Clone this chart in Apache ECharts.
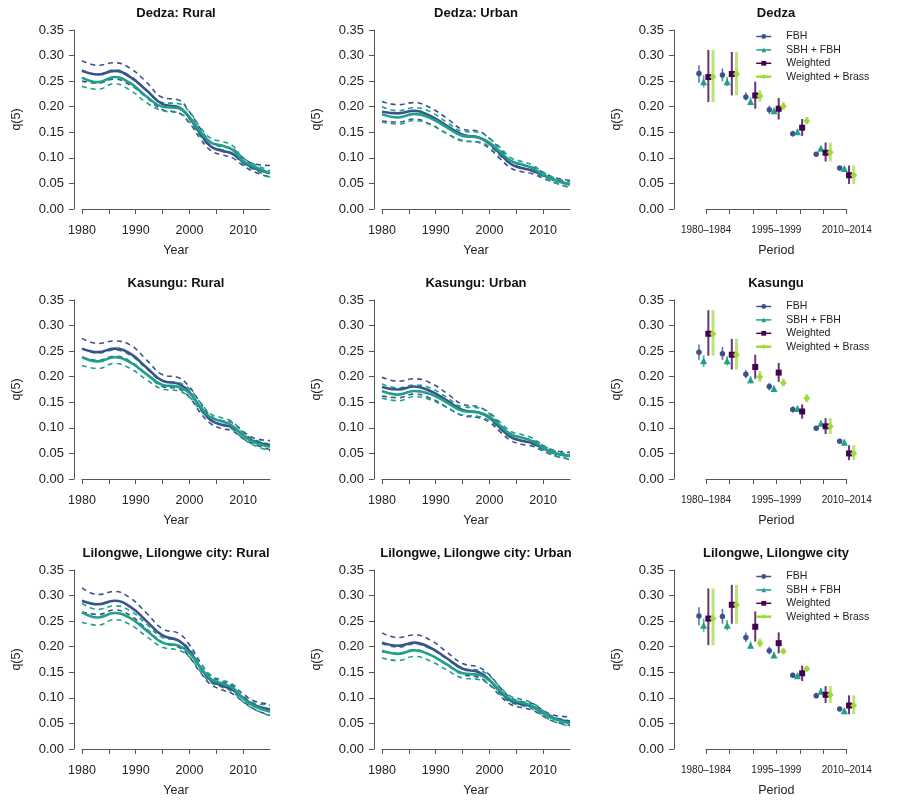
<!DOCTYPE html>
<html><head><meta charset="utf-8">
<script src="https://cdn.jsdelivr.net/npm/echarts@6/dist/echarts.min.js"></script>
<style>html,body{margin:0;padding:0;background:#fff}#c{width:900px;height:810px}</style>
</head><body><div id="c"></div><script>
// ---------- smoothed yearly series (left two columns) ----------
const years = [1980,1983,1986,1989,1992,1995,1998,2000,2002,2004,2006,2008,2010,2012,2015];

const dedzaRuralFbh      = [0.270,0.263,0.270,0.258,0.232,0.205,0.199,0.178,0.148,0.122,0.114,0.108,0.092,0.080,0.070];
const dedzaRuralFbhHi    = [0.290,0.281,0.286,0.275,0.248,0.218,0.213,0.190,0.158,0.130,0.122,0.118,0.100,0.088,0.085];
const dedzaRuralFbhLo    = [0.250,0.246,0.254,0.242,0.218,0.194,0.188,0.168,0.138,0.114,0.106,0.100,0.085,0.073,0.062];
const dedzaRuralSbh      = [0.257,0.248,0.258,0.246,0.220,0.200,0.197,0.180,0.152,0.130,0.124,0.116,0.094,0.083,0.070];
const dedzaRuralSbhHi    = [0.272,0.263,0.272,0.260,0.232,0.208,0.206,0.190,0.160,0.138,0.132,0.124,0.100,0.088,0.075];
const dedzaRuralSbhLo    = [0.240,0.234,0.245,0.232,0.208,0.192,0.188,0.170,0.143,0.122,0.116,0.108,0.088,0.077,0.062];

const dedzaUrbanFbh      = [0.190,0.187,0.192,0.182,0.163,0.145,0.140,0.128,0.108,0.088,0.080,0.075,0.066,0.057,0.048];
const dedzaUrbanFbhHi    = [0.210,0.204,0.208,0.198,0.178,0.156,0.152,0.138,0.117,0.094,0.086,0.082,0.072,0.062,0.056];
const dedzaUrbanFbhLo    = [0.172,0.170,0.176,0.166,0.148,0.134,0.130,0.118,0.098,0.080,0.073,0.069,0.060,0.052,0.042];
const dedzaUrbanSbh      = [0.185,0.179,0.186,0.178,0.160,0.143,0.140,0.130,0.112,0.094,0.087,0.080,0.067,0.057,0.048];
const dedzaUrbanSbhHi    = [0.200,0.192,0.198,0.190,0.170,0.152,0.150,0.138,0.120,0.100,0.093,0.086,0.072,0.061,0.053];
const dedzaUrbanSbhLo    = [0.170,0.166,0.173,0.165,0.148,0.133,0.131,0.122,0.104,0.088,0.081,0.074,0.062,0.052,0.042];

const kasunguRuralFbh    = [0.255,0.248,0.255,0.245,0.218,0.192,0.186,0.170,0.140,0.115,0.106,0.101,0.086,0.074,0.066];
const kasunguRuralFbhHi  = [0.275,0.265,0.270,0.262,0.233,0.204,0.198,0.180,0.150,0.123,0.114,0.110,0.093,0.080,0.075];
const kasunguRuralFbhLo  = [0.238,0.232,0.240,0.230,0.205,0.181,0.176,0.160,0.130,0.108,0.099,0.094,0.079,0.068,0.057];
const kasunguRuralSbh    = [0.238,0.230,0.238,0.228,0.205,0.184,0.180,0.168,0.142,0.120,0.113,0.104,0.085,0.072,0.063];
const kasunguRuralSbhHi  = [0.255,0.246,0.252,0.242,0.216,0.192,0.188,0.176,0.150,0.127,0.120,0.112,0.091,0.077,0.068];
const kasunguRuralSbhLo  = [0.222,0.216,0.226,0.216,0.194,0.176,0.172,0.160,0.135,0.114,0.107,0.097,0.079,0.066,0.055];

const kasunguUrbanFbh    = [0.180,0.175,0.181,0.172,0.154,0.135,0.130,0.120,0.100,0.082,0.075,0.070,0.060,0.051,0.045];
const kasunguUrbanFbhHi  = [0.199,0.191,0.196,0.188,0.168,0.146,0.141,0.128,0.107,0.088,0.081,0.076,0.065,0.056,0.052];
const kasunguUrbanFbhLo  = [0.162,0.159,0.166,0.158,0.141,0.124,0.120,0.111,0.092,0.075,0.068,0.064,0.055,0.046,0.039];
const kasunguUrbanSbh    = [0.172,0.165,0.172,0.166,0.150,0.133,0.130,0.122,0.104,0.087,0.081,0.074,0.061,0.051,0.045];
const kasunguUrbanSbhHi  = [0.186,0.178,0.184,0.178,0.160,0.141,0.139,0.130,0.111,0.093,0.087,0.080,0.066,0.055,0.048];
const kasunguUrbanSbhLo  = [0.158,0.153,0.161,0.155,0.140,0.125,0.122,0.114,0.097,0.081,0.075,0.068,0.056,0.046,0.038];

const lilongweRuralFbh   = [0.290,0.283,0.290,0.278,0.250,0.222,0.212,0.192,0.160,0.134,0.124,0.116,0.100,0.086,0.077];
const lilongweRuralFbhHi = [0.315,0.302,0.308,0.295,0.266,0.235,0.226,0.204,0.170,0.142,0.132,0.124,0.108,0.094,0.088];
const lilongweRuralFbhLo = [0.268,0.263,0.272,0.261,0.235,0.208,0.199,0.180,0.150,0.126,0.116,0.108,0.093,0.078,0.066];
const lilongweRuralSbh   = [0.267,0.257,0.266,0.256,0.232,0.208,0.202,0.188,0.160,0.137,0.128,0.120,0.099,0.084,0.073];
const lilongweRuralSbhHi = [0.285,0.273,0.280,0.270,0.244,0.218,0.212,0.196,0.168,0.144,0.135,0.127,0.105,0.090,0.086];
const lilongweRuralSbhLo = [0.248,0.242,0.253,0.243,0.220,0.199,0.193,0.180,0.152,0.130,0.121,0.112,0.092,0.078,0.065];

const lilongweUrbanFbh   = [0.208,0.202,0.208,0.198,0.178,0.157,0.150,0.135,0.112,0.094,0.088,0.083,0.070,0.060,0.053];
const lilongweUrbanFbhHi = [0.227,0.218,0.223,0.213,0.190,0.167,0.160,0.145,0.120,0.100,0.093,0.089,0.076,0.066,0.063];
const lilongweUrbanFbhLo = [0.190,0.187,0.194,0.184,0.165,0.146,0.140,0.126,0.104,0.087,0.081,0.076,0.064,0.054,0.046];
const lilongweUrbanSbh   = [0.192,0.186,0.193,0.184,0.166,0.148,0.145,0.134,0.114,0.097,0.091,0.084,0.070,0.059,0.050];
const lilongweUrbanSbhHi = [0.206,0.199,0.205,0.196,0.177,0.157,0.154,0.143,0.121,0.103,0.097,0.090,0.075,0.063,0.055];
const lilongweUrbanSbhLo = [0.178,0.173,0.181,0.172,0.155,0.139,0.136,0.126,0.107,0.091,0.085,0.078,0.065,0.054,0.044];

// ---------- period estimates (right column) ----------
const periods = ['1980\u20131984','1985\u20131989','1990\u20131994','1995\u20131999','2000\u20132004','2005\u20132009','2010\u20132014'];
const methodNames = ['FBH','SBH + FBH','Weighted','Weighted + Brass'];

const dedzaFbh     = [0.265,0.262,0.219,0.194,0.147,0.107,0.080];
const dedzaFbhLo   = [0.247,0.250,0.212,0.186,0.142,0.103,0.075];
const dedzaFbhHi   = [0.281,0.275,0.228,0.202,0.153,0.112,0.084];
const dedzaSbh     = [0.249,0.249,0.210,0.192,0.151,0.119,0.079];
const dedzaSbhLo   = [0.238,0.240,0.203,0.187,0.147,0.116,0.075];
const dedzaSbhHi   = [0.262,0.258,0.218,0.198,0.155,0.122,0.083];
const dedzaW       = [0.258,0.264,0.222,0.196,0.159,0.110,0.066];
const dedzaWLo     = [0.209,0.222,0.196,0.175,0.143,0.093,0.049];
const dedzaWHi     = [0.311,0.307,0.249,0.217,0.176,0.130,0.085];
const dedzaWB      = [0.258,0.264,0.221,0.201,0.172,0.111,0.066];
const dedzaWBLo    = [0.209,0.222,0.210,0.194,0.166,0.093,0.049];
const dedzaWBHi    = [0.311,0.307,0.232,0.209,0.180,0.130,0.085];

const kasunguFbh   = [0.248,0.245,0.205,0.181,0.136,0.099,0.074];
const kasunguFbhLo = [0.233,0.233,0.197,0.173,0.130,0.095,0.070];
const kasunguFbhHi = [0.263,0.258,0.213,0.188,0.142,0.104,0.078];
const kasunguSbh   = [0.231,0.231,0.194,0.177,0.138,0.109,0.072];
const kasunguSbhLo = [0.219,0.222,0.187,0.172,0.133,0.104,0.068];
const kasunguSbhHi = [0.242,0.240,0.201,0.183,0.143,0.114,0.077];
const kasunguW     = [0.284,0.243,0.219,0.208,0.132,0.103,0.050];
const kasunguWLo   = [0.241,0.214,0.196,0.190,0.118,0.088,0.037];
const kasunguWHi   = [0.330,0.274,0.243,0.227,0.146,0.119,0.066];
const kasunguWB    = [0.284,0.243,0.200,0.188,0.158,0.103,0.050];
const kasunguWBLo  = [0.241,0.214,0.190,0.181,0.150,0.088,0.037];
const kasunguWBHi  = [0.330,0.274,0.211,0.196,0.166,0.119,0.066];

const lilongweFbh   = [0.260,0.259,0.218,0.192,0.144,0.104,0.078];
const lilongweFbhLo = [0.242,0.245,0.209,0.185,0.139,0.099,0.074];
const lilongweFbhHi = [0.277,0.274,0.228,0.200,0.149,0.110,0.083];
const lilongweSbh   = [0.242,0.242,0.203,0.184,0.143,0.113,0.075];
const lilongweSbhLo = [0.229,0.232,0.196,0.178,0.138,0.108,0.070];
const lilongweSbhHi = [0.255,0.252,0.210,0.190,0.149,0.119,0.080];
const lilongweW     = [0.255,0.282,0.239,0.207,0.148,0.106,0.085];
const lilongweWLo   = [0.203,0.245,0.210,0.187,0.133,0.090,0.068];
const lilongweWHi   = [0.314,0.321,0.269,0.228,0.163,0.123,0.105];
const lilongweWB    = [0.255,0.282,0.207,0.191,0.157,0.106,0.085];
const lilongweWBLo  = [0.203,0.245,0.199,0.186,0.152,0.090,0.068];
const lilongweWBHi  = [0.314,0.321,0.216,0.197,0.162,0.123,0.105];

const yTicks = [0,0.05,0.10,0.15,0.20,0.25,0.30,0.35];

// ---------- layout / styling ----------
const FONT = "'Liberation Sans', Arial, Helvetica, sans-serif";
const BLUE = '#3B528B', TEAL = '#1FA088';
const methodStyle = [
  {color:'#3B528B', symbol:'circle',   size:5.5, off:-0.3, barW:1.6, barOp:0.8},
  {color:'#1FA088', symbol:'triangle', size:7,   off:-0.1, barW:1.6, barOp:0.8},
  {color:'#440154', symbol:'rect',     size:6,   off: 0.1, barW:2,   barOp:0.8},
  {color:'#9FDA3A', symbol:'diamond',  size:7,   off: 0.3, barW:3,   barOp:0.7}
];

const linePanels = [
  {title:'Dedza: Rural', r:0, c:0, fbh:[dedzaRuralFbh,dedzaRuralFbhLo,dedzaRuralFbhHi], sbh:[dedzaRuralSbh,dedzaRuralSbhLo,dedzaRuralSbhHi]},
  {title:'Dedza: Urban', r:0, c:1, fbh:[dedzaUrbanFbh,dedzaUrbanFbhLo,dedzaUrbanFbhHi], sbh:[dedzaUrbanSbh,dedzaUrbanSbhLo,dedzaUrbanSbhHi]},
  {title:'Kasungu: Rural', r:1, c:0, fbh:[kasunguRuralFbh,kasunguRuralFbhLo,kasunguRuralFbhHi], sbh:[kasunguRuralSbh,kasunguRuralSbhLo,kasunguRuralSbhHi]},
  {title:'Kasungu: Urban', r:1, c:1, fbh:[kasunguUrbanFbh,kasunguUrbanFbhLo,kasunguUrbanFbhHi], sbh:[kasunguUrbanSbh,kasunguUrbanSbhLo,kasunguUrbanSbhHi]},
  {title:'Lilongwe, Lilongwe city: Rural', r:2, c:0, fbh:[lilongweRuralFbh,lilongweRuralFbhLo,lilongweRuralFbhHi], sbh:[lilongweRuralSbh,lilongweRuralSbhLo,lilongweRuralSbhHi]},
  {title:'Lilongwe, Lilongwe city: Urban', r:2, c:1, fbh:[lilongweUrbanFbh,lilongweUrbanFbhLo,lilongweUrbanFbhHi], sbh:[lilongweUrbanSbh,lilongweUrbanSbhLo,lilongweUrbanSbhHi]}
];
const periodPanels = [
  {title:'Dedza', r:0, m:[[dedzaFbh,dedzaFbhLo,dedzaFbhHi],[dedzaSbh,dedzaSbhLo,dedzaSbhHi],[dedzaW,dedzaWLo,dedzaWHi],[dedzaWB,dedzaWBLo,dedzaWBHi]]},
  {title:'Kasungu', r:1, m:[[kasunguFbh,kasunguFbhLo,kasunguFbhHi],[kasunguSbh,kasunguSbhLo,kasunguSbhHi],[kasunguW,kasunguWLo,kasunguWHi],[kasunguWB,kasunguWBLo,kasunguWBHi]]},
  {title:'Lilongwe, Lilongwe city', r:2, m:[[lilongweFbh,lilongweFbhLo,lilongweFbhHi],[lilongweSbh,lilongweSbhLo,lilongweSbhHi],[lilongweW,lilongweWLo,lilongweWHi],[lilongweWB,lilongweWBLo,lilongweWBHi]]}
];

const grids = [], xAxes = [], yAxes = [], series = [], graphics = [], legends = [];
const axisLineStyle = {show:true, lineStyle:{color:'#555', width:1}};
const axisTickStyle = {show:true, length:5, lineStyle:{color:'#555', width:1}};

function addY(gi, offset){
  yAxes.push({gridIndex:gi, type:'value', min:yTicks[0], max:yTicks[yTicks.length-1], interval:0.05, offset:offset,
    axisLine:axisLineStyle, axisTick:axisTickStyle, splitLine:{show:false},
    axisLabel:{fontFamily:FONT, fontSize:13, color:'#222', margin:10, formatter:v=>v.toFixed(2)},
    name:'q(5)', nameLocation:'middle', nameGap:51, nameRotate:90,
    nameTextStyle:{fontFamily:FONT, fontSize:12.5, color:'#222'}});
}

linePanels.forEach(p=>{
  const gi = grids.length;
  const left = 82 + 300*p.c, top = 30 + 270*p.r;
  grids.push({left:left, top:top, width:188, height:179});
  xAxes.push({gridIndex:gi, type:'value', min:1980, max:2015, interval:5, offset:7,
    axisLine:axisLineStyle, axisTick:axisTickStyle, splitLine:{show:false},
    axisLabel:{fontFamily:FONT, fontSize:12.5, color:'#222', margin:8, showMinLabel:true, showMaxLabel:false,
      formatter:v=> (v%10===0 ? String(v) : '')},
    name:'Year', nameLocation:'middle', nameGap:28, nameTextStyle:{fontFamily:FONT, fontSize:12.5, color:'#222'}});
  addY(gi, 8);
  graphics.push({type:'text', x:left+94, y:top-17, style:{text:p.title, x:0, y:0, align:'center', verticalAlign:'middle',
    font:"bold 13px "+FONT, fill:'#111'}});
  [[p.fbh,BLUE],[p.sbh,TEAL]].forEach(([set,col])=>{
    [1,2].forEach(k=>{
      series.push({type:'line', xAxisIndex:gi, yAxisIndex:gi, showSymbol:false, smooth:0.45,
        data:years.map((y,i)=>[y,set[k][i]]), lineStyle:{color:col, width:1.6, type:[5,4]}, silent:true, z:2});
    });
    series.push({type:'line', xAxisIndex:gi, yAxisIndex:gi, showSymbol:false, smooth:0.45,
      data:years.map((y,i)=>[y,set[0][i]]), lineStyle:{color:col, width:2.6}, silent:true, z:3});
  });
});

periodPanels.forEach(p=>{
  const gi = grids.length;
  const left = 706, top = 30 + 270*p.r;
  grids.push({left:left, top:top, width:140.7, height:179});
  xAxes.push({gridIndex:gi, type:'value', min:1, max:7, interval:1, offset:7,
    axisLine:axisLineStyle, axisTick:axisTickStyle, splitLine:{show:false},
    axisLabel:{fontFamily:FONT, fontSize:10, color:'#222', margin:9, showMinLabel:true, showMaxLabel:true,
      formatter:v=> ((v-1)%3===0 ? periods[v-1] : '')},
    name:'Period', nameLocation:'middle', nameGap:28, nameTextStyle:{fontFamily:FONT, fontSize:12.5, color:'#222'}});
  addY(gi, 32);
  graphics.push({type:'text', x:776, y:top-17, style:{text:p.title, x:0, y:0, align:'center', verticalAlign:'middle',
    font:"bold 13px "+FONT, fill:'#111'}});
  p.m.forEach((trip,mi)=>{
    const st = methodStyle[mi];
    series.push({type:'custom', name:methodNames[mi]+' interval', xAxisIndex:gi, yAxisIndex:gi, silent:true, z:2,
      data: periods.map((_,i)=>[i+1+st.off, trip[1][i], trip[2][i]]),
      encode:{x:0, y:[1,2]},
      renderItem:(params, api)=>{
        const x = api.value(0);
        const a = api.coord([x, api.value(1)]), b = api.coord([x, api.value(2)]);
        return {type:'line', shape:{x1:a[0], y1:a[1], x2:b[0], y2:b[1]},
          style:{stroke:st.color, lineWidth:st.barW, opacity:st.barOp}};
      }});
    series.push({type:'line', name:methodNames[mi], xAxisIndex:gi, yAxisIndex:gi, clip:false, silent:true, z:4,
      symbol:st.symbol, symbolSize:st.size, showSymbol:true, showAllSymbol:true,
      data: periods.map((_,i)=>[i+1+st.off, trip[0][i]]),
      itemStyle:{color:st.color}, lineStyle:{color:st.color, opacity:0, width:1}});
  });
  legends.push({orient:'vertical', left:755, top:top+1, padding:0, itemWidth:15, itemHeight:6, itemGap:2.4,
    selectedMode:false,
    textStyle:{fontFamily:FONT, fontSize:10.5, color:'#222', padding:[0,0,0,10]},
    lineStyle:{opacity:1, width:1.5},
    data: methodNames.map((n,mi)=>({name:n, lineStyle:{opacity:1, width: mi===3?2.5:1.5, color:methodStyle[mi].color}}))
  });
});

const chart = echarts.init(document.getElementById('c'), null, {renderer:'canvas'});
chart.setOption({
  animation:false, backgroundColor:'#fff',
  grid:grids, xAxis:xAxes, yAxis:yAxes, series:series, legend:legends, graphic:graphics
});
</script></body></html>
